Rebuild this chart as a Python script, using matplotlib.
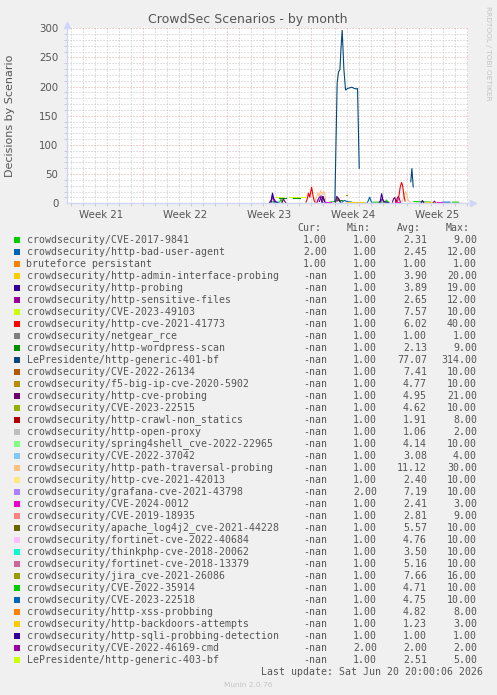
import numpy as np
import matplotlib
matplotlib.use("Agg")
import matplotlib.pyplot as plt
from matplotlib.patches import Rectangle

nan = np.nan

# legend table (munin order)
names = ["crowdsecurity/CVE-2017-9841", "crowdsecurity/http-bad-user-agent", "bruteforce persistant",
         "crowdsecurity/http-admin-interface-probing", "crowdsecurity/http-probing",
         "crowdsecurity/http-sensitive-files", "crowdsecurity/CVE-2023-49103",
         "crowdsecurity/http-cve-2021-41773", "crowdsecurity/netgear_rce",
         "crowdsecurity/http-wordpress-scan", "LePresidente/http-generic-401-bf",
         "crowdsecurity/CVE-2022-26134", "crowdsecurity/f5-big-ip-cve-2020-5902",
         "crowdsecurity/http-cve-probing", "crowdsecurity/CVE-2023-22515",
         "crowdsecurity/http-crawl-non_statics", "crowdsecurity/http-open-proxy",
         "crowdsecurity/spring4shell_cve-2022-22965", "crowdsecurity/CVE-2022-37042",
         "crowdsecurity/http-path-traversal-probing", "crowdsecurity/http-cve-2021-42013",
         "crowdsecurity/grafana-cve-2021-43798", "crowdsecurity/CVE-2024-0012",
         "crowdsecurity/CVE-2019-18935", "crowdsecurity/apache_log4j2_cve-2021-44228",
         "crowdsecurity/fortinet-cve-2022-40684", "crowdsecurity/thinkphp-cve-2018-20062",
         "crowdsecurity/fortinet-cve-2018-13379", "crowdsecurity/jira_cve-2021-26086",
         "crowdsecurity/CVE-2022-35914", "crowdsecurity/CVE-2023-22518",
         "crowdsecurity/http-xss-probbing", "crowdsecurity/http-backdoors-attempts",
         "crowdsecurity/http-sqli-probbing-detection", "crowdsecurity/CVE-2022-46169-cmd",
         "LePresidente/http-generic-403-bf"]
colors = ["#00CC00", "#0066B3", "#FF8000", "#FFCC00", "#330099", "#990099", "#CCFF00", "#FF0000",
          "#808080", "#008F00", "#00487D", "#B35A00", "#B38F00", "#6B006B", "#8FB300", "#B30000",
          "#BEBEBE", "#80FF80", "#80C9FF", "#FFC080", "#FFE680", "#AA80FF", "#EE00CC", "#FF8080",
          "#666600", "#FFBFFF", "#00FFCC", "#CC6699", "#999900", "#00CC00", "#0066B3", "#FF8000",
          "#FFCC00", "#330099", "#990099", "#CCFF00"]
cur = ["1.00", "2.00", "1.00"] + ["-nan"] * 33
mins = ["1.00"] * 21 + ["2.00"] + ["1.00"] * 12 + ["2.00", "1.00"]
avgs = ["2.31", "2.45", "1.00", "3.90", "3.89", "2.65", "7.57", "6.02", "1.00", "2.13", "77.07",
        "7.41", "4.77", "4.95", "4.62", "1.91", "1.06", "4.14", "3.08", "11.12", "2.40", "7.19",
        "2.41", "2.81", "5.57", "4.76", "3.50", "5.16", "7.66", "4.71", "4.75", "4.82", "1.23",
        "1.00", "2.00", "2.51"]
maxs = ["9.00", "12.00", "1.00", "20.00", "19.00", "12.00", "10.00", "40.00", "1.00", "9.00",
        "314.00", "10.00", "10.00", "21.00", "10.00", "8.00", "2.00", "10.00", "4.00", "30.00",
        "10.00", "10.00", "3.00", "9.00", "10.00", "10.00", "10.00", "10.00", "16.00", "10.00",
        "10.00", "8.00", "3.00", "1.00", "2.00", "5.00"]

# time in days since Mon May 18 2026 (start of week 21)
week_labels = ["Week 21", "Week 22", "Week 23", "Week 24", "Week 25"]
week_starts = [0, 7, 14, 21, 28]

# series (nan = gap)
t_401 = [23.0, 23.19, 23.3, 23.42, 23.5, 23.61, 23.75, 23.89, 24.0, 24.08, 24.25, 24.42, 24.6,
         24.81, 24.89, 25.03, nan, 29.33, 29.42, 29.53]
v_401 = [3, 206, 225, 229, 262, 297, 230, 194, 196, 197, 198, 199, 197, 196, 197, 60, nan, 37, 60, 28]

t_41773 = [20.6, 20.7, 20.8, 20.9, 21.0, 21.06, 21.15, 21.25, 21.35, nan,
           28.15, 28.25, 28.35, 28.45, 28.56, 28.65, 28.75, 28.85]
v_41773 = [2, 8, 18, 10, 21, 28, 16, 6, 2, nan, 2, 5, 14, 28, 36, 30, 14, 4]

t_path = [21.3, 21.45, 21.6, 21.7, 21.8, 21.95, 22.1, 22.25, nan, 28.6, 28.75, 28.9, 29.0, 29.1, 29.25]
v_path = [2, 10, 18, 12, 22, 15, 20, 4, nan, 3, 12, 20, 14, 6, 2]

t_probing = [17.55, 17.7, 17.8, 17.9, 18.05, 18.2, nan, 21.9, 22.0, 22.1, 22.2, nan,
             26.7, 26.8, 26.9, 27.0, 27.1, 27.3, 27.5, nan, 30.2, 30.3, 30.4]
v_probing = [1, 6, 18, 8, 3, 1, nan, 2, 12, 6, 1, nan, 1, 5, 17, 6, 3, 2, 1, nan, 1, 5, 1]

t_cveprob = [18.6, 18.7, 18.8, 18.9, nan, 21.7, 21.85, 22.0, 22.15, nan,
             23.05, 23.15, 23.3, 23.45, nan, 27.8, 27.9, 28.0, 28.1]
v_cveprob = [1, 8, 4, 1, nan, 3, 10, 12, 3, nan, 2, 12, 8, 2, nan, 2, 8, 10, 2]

t_sensitive = [21.5, 21.6, 21.75, 21.9, 22.0, nan, 28.1, 28.2, 28.3, 28.45, nan, 31.2, 31.3, 31.4]
v_sensitive = [1, 6, 12, 5, 1, nan, 2, 9, 12, 3, nan, 1, 4, 1]

t_grafana = [21.55, 21.7, 21.85, 22.0, 22.15]
v_grafana = [4, 10, 14, 9, 2]

t_49103 = [18.1, 18.6, nan, 19.2, 19.9, nan, 20.2, 20.5]
v_49103 = [10, 10, nan, 10, 10, nan, 10, 10]

t_wordpress = [18.3, 18.9, nan, 19.5, 20.1, nan, 23.3, 23.6]
v_wordpress = [9, 9, nan, 9, 9, nan, 5, 5]

t_badagent = [17.9, 18.3, nan, 23.6, 23.8, 24.0, 24.4, nan, 25.7, 25.8, 25.9, 26.0, 26.1, nan, 32.0, 32.6]
v_badagent = [2, 2, nan, 2, 5, 3, 2, nan, 1, 5, 11, 4, 1, nan, 2, 2]

t_jira = [23.95, 24.05]
v_jira = [15, 15]

t_35914 = [18.4, 18.5, 18.6, nan, 23.1, 23.2, 23.35, 23.5, nan, 27.2, 27.3, 27.4]
v_35914 = [2, 7, 2, nan, 3, 10, 6, 2, nan, 2, 6, 2]

t_cve46169 = [17.7, 17.8, 17.95, nan, 23.2, 23.3, 23.4, nan, 26.8, 26.95, 27.1]
v_cve46169 = [2, 12, 3, nan, 4, 9, 3, nan, 2, 8, 2]

t_xss = [17.5, 18.5, nan, 23.5, 24.6, nan, 25.2, 26.5, nan, 29.0, 30.0, nan, 32.5, 33.8]
v_xss = [1, 1, nan, 1, 1, nan, 1, 1, nan, 1, 1, nan, 1, 1]

t_backdoor = [19.0, 20.2, nan, 24.0, 25.5, nan, 27.5, 28.0, nan, 30.5, 31.8, nan, 33.0, 33.7]
v_backdoor = [1, 1, nan, 2, 2, nan, 1, 1, nan, 2, 2, nan, 1, 1]

t_cve2017 = [17.6, 18.0, nan, 22.6, 23.0, nan, 26.2, 27.5, nan, 29.6, 31.0, nan, 32.8, 33.3]
v_cve2017 = [2, 3, nan, 2, 3, nan, 2, 2, nan, 3, 2, nan, 2, 2]

t_cve0012 = [22.3, 22.7, nan, 28.0, 28.4, nan, 31.5, 31.9]
v_cve0012 = [3, 3, nan, 2, 2, nan, 2, 2]

t_sqli = [24.6, 25.1, nan, 29.8, 30.1, nan, 33.0, 33.5]
v_sqli = [1, 1, nan, 1, 1, nan, 1, 1]

TEXT = "#555555"
GRID = "#c4c4c4"
MGRID = "#e4a4a4"
AXIS = "#CFD6F8"


def px_x(px):
    return px / 497.0


def px_y(px):
    return 1 - px / 695.0


def draw_series(ax):
    series = [
        (t_cve2017, v_cve2017, 0), (t_badagent, v_badagent, 1), (t_xss, v_xss, 31),
        (t_backdoor, v_backdoor, 32), (t_sqli, v_sqli, 33), (t_49103, v_49103, 6),
        (t_wordpress, v_wordpress, 9), (t_cve0012, v_cve0012, 22), (t_jira, v_jira, 28),
        (t_35914, v_35914, 29), (t_cve46169, v_cve46169, 34),
        (t_grafana, v_grafana, 21), (t_sensitive, v_sensitive, 5), (t_cveprob, v_cveprob, 13),
        (t_probing, v_probing, 4), (t_path, v_path, 19), (t_41773, v_41773, 7),
        (t_401, v_401, 10),
    ]
    for t, v, idx in series:
        assert len(t) == len(v)
        ax.plot(t, v, color=colors[idx], lw=0.8, solid_joinstyle="miter")


def draw_grid(ax):
    for d in range(1, 35):
        if d % 7 == 0:
            continue
        ax.axvline(d, color=GRID, lw=0.72, ls=(0, (1, 2)), zorder=0)
    for y in range(10, 301, 10):
        if y % 50 == 0:
            continue
        ax.axhline(y, color=GRID, lw=0.72, ls=(0, (1, 2)), zorder=0)
    for d in week_starts[1:]:
        ax.axvline(d, color=MGRID, lw=0.72, ls=(0, (1, 2)), zorder=0)
    for y in range(50, 301, 50):
        ax.axhline(y, color=MGRID, lw=0.72, ls=(0, (1, 2)), zorder=0)


def main():
    fig = plt.figure(figsize=(4.97, 6.95), dpi=100)
    fig.patch.set_facecolor("#F0F0F0")

    ax = fig.add_axes([px_x(66.7), px_y(203.3), (468 - 66.7) / 497, 175 / 695])
    ax.set_facecolor("white")
    ax.set_xlim(0.64, 34.1)
    ax.set_ylim(0, 300)

    draw_grid(ax)
    draw_series(ax)

    for s in ["top", "right"]:
        ax.spines[s].set_visible(False)
    for s in ["left", "bottom"]:
        ax.spines[s].set_color(AXIS)
        ax.spines[s].set_linewidth(1)
    ax.plot([1.012], [0], marker=">", ms=5, color=AXIS, transform=ax.transAxes, clip_on=False)
    ax.plot([0], [1.02], marker="^", ms=5, color=AXIS, transform=ax.transAxes, clip_on=False)

    ax.set_yticks(range(0, 301, 50))
    ax.set_yticks(range(0, 301, 10), minor=True)
    ax.set_xticks([w + 3.5 for w in week_starts])
    ax.set_xticks(range(1, 35), minor=True)
    ax.set_xticklabels(week_labels)
    ax.tick_params(axis="both", which="major", length=0, labelsize=7.4, labelcolor=TEXT)
    ax.tick_params(axis="both", which="minor", length=2, width=0.6, color=GRID)
    ax.tick_params(axis="y", pad=6)
    ax.tick_params(axis="x", pad=5)
    ax.set_ylabel("Decisions by Scenario", fontsize=8, color=TEXT)
    ax.yaxis.set_label_coords(-0.128, 0.5)

    fig.text(0.4988, px_y(19), "CrowdSec Scenarios - by month", ha="center", va="center",
             fontsize=9, color=TEXT)
    fig.text(px_x(488), px_y(53), "RRDTOOL / TOBI OETIKER", rotation=-90, ha="center", va="center",
             fontsize=5.3, color="#c4c4c4")

    # legend table
    mono = "DejaVu Sans Mono"
    fs = 7.1
    for lab, xr in [("Cur:", 321), ("Min:", 371), ("Avg:", 421), ("Max:", 470)]:
        fig.text(px_x(xr), px_y(228), lab, ha="right", va="center", family=mono, fontsize=fs, color=TEXT)
    for i, name in enumerate(names):
        yc = 240 + 12 * i
        fig.patches.append(Rectangle((px_x(14), px_y(yc + 3)), 6 / 497, 6 / 695,
                                     transform=fig.transFigure, facecolor=colors[i], edgecolor="none"))
        fig.text(px_x(26.5), px_y(yc), name, ha="left", va="center", family=mono, fontsize=fs, color=TEXT)
        for val, xr in [(cur[i], 327), (mins[i], 377), (avgs[i], 427), (maxs[i], 477)]:
            fig.text(px_x(xr), px_y(yc), val, ha="right", va="center", family=mono, fontsize=fs, color=TEXT)
    fig.text(px_x(482.7), px_y(672), "Last update: Sat Jun 20 20:00:06 2026", ha="right", va="center",
             family=mono, fontsize=fs, color=TEXT)
    fig.text(px_x(248), px_y(685), "Munin 2.0.76", ha="center", va="center", fontsize=5.3, color="#c4c4c4")

    fig.savefig("out.png", dpi=100, facecolor=fig.get_facecolor())


if __name__ == "__main__":
    main()
